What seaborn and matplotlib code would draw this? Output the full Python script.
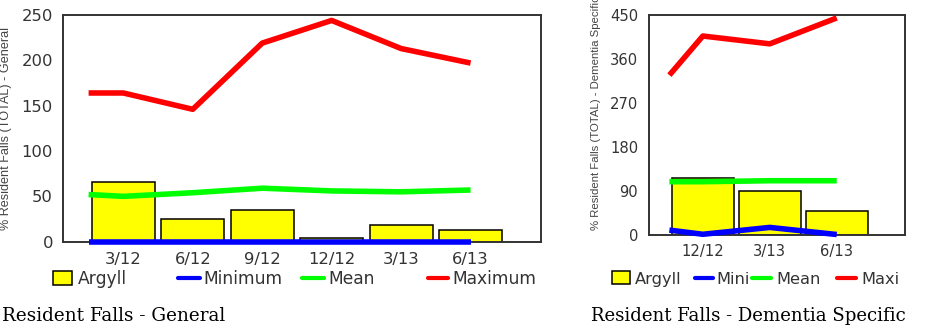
import matplotlib
matplotlib.use("Agg")
import matplotlib.pyplot as plt
from matplotlib.patches import Patch
from matplotlib.lines import Line2D
import numpy as np
import pandas as pd
import seaborn as sns

# ---- data -------------------------------------------------------------
periods_general = ["3/12", "6/12", "9/12", "12/12", "3/13", "6/13"]
argyll_general = [66, 25, 35, 4, 18, 13]
# comparison series: first value is the level at the start of the first period
min_general = [0, 0, 0, 0, 0, 0, 0]
mean_general = [52, 50, 54, 59, 56, 55, 57]
max_general = [164, 164, 146, 219, 244, 213, 197]
yticks_general = [0, 50, 100, 150, 200, 250]

periods_dementia = ["12/12", "3/13", "6/13"]
argyll_dementia = [116, 91, 50]
min_dementia = [10, 1.5, 15.5, 1]
mean_dementia = [109, 109, 111, 111]
max_dementia = [327, 407, 391, 444]
yticks_dementia = [0, 90, 180, 270, 360, 450]

YELLOW, BLUE, GREEN, RED = "#FFFF00", "#0000FF", "#00FF00", "#FF0000"
INK = "#333333"

sns.set_style("white")
plt.rcParams["font.family"] = ["DejaVu Sans"]

fig = plt.figure(figsize=(9.29, 3.34), dpi=100)
W, H = 929, 334


def axes_px(x0, x1, ytop, ybot):
    return fig.add_axes([x0 / W, (H - ybot) / H, (x1 - x0) / W, (ybot - ytop) / H])


def panel(ax, periods, bars, lo, mid, hi, yticks, bar_width, xlim,
          tick_size, ylabel, label_size, label_xy, ypad, xpad):
    n = len(periods)
    df = pd.DataFrame({"period": periods, "value": bars})
    sns.barplot(data=df, x="period", y="value", order=periods, color=YELLOW,
                saturation=1, width=bar_width, edgecolor="black",
                linewidth=1.1, ax=ax, zorder=1)
    xs = np.concatenate([[-0.5], np.arange(n)])
    for vals, col in ((lo, BLUE), (mid, GREEN), (hi, RED)):
        line_df = pd.DataFrame({"x": xs, "y": vals})
        sns.lineplot(data=line_df, x="x", y="y", color=col, linewidth=4,
                     ax=ax, legend=False, sort=False, zorder=3,
                     clip_on=False, solid_capstyle="butt")
    ax.set_xlim(*xlim)
    ax.set_ylim(yticks[0], yticks[-1])
    ax.set_yticks(yticks)
    ax.set_xticks(range(n))
    ax.set_xticklabels(periods)
    ax.set_xlabel("")
    ax.set_ylabel(ylabel, fontsize=label_size, color="#444444", ha="left",
                  family="Liberation Sans")
    ax.yaxis.set_label_coords(*label_xy)
    ax.tick_params(axis="y", direction="in", length=5, width=1.2,
                   color=INK, labelsize=tick_size, labelcolor=INK, pad=ypad)
    ax.tick_params(axis="x", direction="in", length=3, width=1.0,
                   color=INK, labelsize=tick_size, labelcolor=INK, pad=xpad)
    for s in ax.spines.values():
        s.set_visible(True)
        s.set_color(INK)
        s.set_linewidth(1.4)


ax1 = axes_px(62.7, 540.7, 15, 241.7)
panel(ax1, periods_general, argyll_general, min_general, mean_general,
      max_general, yticks_general, 0.91, (-0.873, 6.01), 11.8,
      "% Resident Falls (TOTAL) - General", 9.1, (-0.107, 0.052), 7, 7.5)

ax2 = axes_px(649.3, 905, 15, 235)
panel(ax2, periods_dementia, argyll_dementia, min_dementia, mean_dementia,
      max_dementia, yticks_dementia, 0.925, (-0.8, 3.02), 10.6,
      "% Resident Falls (TOTAL) - Dementia Specific", 8.2, (-0.189, 0.023),
      8, 6.5)


def legend_entry(handle, label, x_px, fontsize, handlelength, textpad):
    fig.legend(handles=[handle], labels=[label], loc="center left",
               bbox_to_anchor=(x_px / W, (H - 279) / H), frameon=False,
               fontsize=fontsize, handlelength=handlelength,
               handleheight=0.85, handletextpad=textpad, borderpad=0,
               borderaxespad=0, labelcolor=INK)


def bar_handle():
    return Patch(facecolor=YELLOW, edgecolor="black", linewidth=1.1)


def line_handle(col):
    return Line2D([], [], color=col, linewidth=3)


# legend of the general panel
legend_entry(bar_handle(), "Argyll", 53, 12.3, 1.12, 0.35)
legend_entry(line_handle(BLUE), "Minimum", 178, 12.3, 1.3, 0.2)
legend_entry(line_handle(GREEN), "Mean", 302, 12.3, 1.3, 0.25)
legend_entry(line_handle(RED), "Maximum", 428, 12.3, 1.15, 0.3)

# legend of the dementia panel
legend_entry(bar_handle(), "Argyll", 611.7, 11.7, 1.1, 0.35)
legend_entry(line_handle(BLUE), "Mini", 695, 11.7, 1.1, 0.2)
legend_entry(line_handle(GREEN), "Mean", 751.7, 11.7, 1.2, 0.3)
legend_entry(line_handle(RED), "Maxi", 836.7, 11.7, 1.2, 0.3)

# panel captions
fig.text(2 / W, (H - 321) / H, "Resident Falls - General",
         family="DejaVu Serif", fontsize=13.2, color="black",
         ha="left", va="baseline")
fig.text(591 / W, (H - 321) / H, "Resident Falls - Dementia Specific",
         family="DejaVu Serif", fontsize=13.1, color="black",
         ha="left", va="baseline")

fig.savefig("out.png", dpi=100)
